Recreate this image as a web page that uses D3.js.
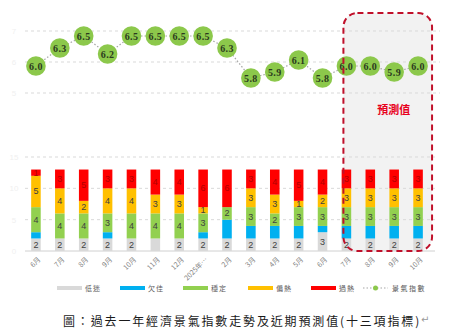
<!DOCTYPE html>
<html>
<head>
<meta charset="utf-8">
<script src="https://cdn.jsdelivr.net/npm/d3@7/dist/d3.min.js"></script>
<style>
  html, body { margin: 0; padding: 0; background: #fff; }
  svg { display: block; }
</style>
</head>
<body>
<svg id="chart" width="450" height="334"></svg>
<script>
// Months shown on the axis (Jun of last year through Oct, forecast for the last four)
const months = ["6月","7月","8月","9月","10月","11月","12月","2025年…","2月","3月","4月","5月","6月","7月","8月","9月","10月"];

// Composite index (signal score) per month
const indexValues = [6.0,6.3,6.5,6.2,6.5,6.5,6.5,6.5,6.3,5.8,5.9,6.1,5.8,6.0,6.0,5.9,6.0];

// Count of the thirteen indicators in each zone
const lowCounts    = [2,2,2,2,2,2,2,2,2,2,2,2,3,2,2,2,2]; // 低迷
const poorCounts   = [1,0,0,1,0,0,0,1,3,2,2,2,1,2,2,2,2]; // 欠佳
const stableCounts = [4,4,4,3,4,4,4,3,2,3,2,3,3,3,3,3,3]; // 穩定
const warmCounts   = [5,4,2,4,4,3,3,1,0,3,3,1,2,3,3,3,3]; // 偏熱
const hotCounts    = [1,3,5,3,3,4,4,6,6,3,4,5,4,3,3,3,3]; // 過熱

const zoneNames  = ["低迷","欠佳","穩定","偏熱","過熱"];
const zoneColors = ["#d9d9d9","#00b0f0","#92d050","#ffc000","#ff0000"];
const countTicks = [0,5,10,15];
const indexGridTicks = [5,6,7];
const forecastStart = 13;   // index of first month inside the forecast box
const forecastLabel = "預測值";
const seriesLabel = "景氣指數";
const caption = "圖：過去一年經濟景氣指數走勢及近期預測值(十三項指標)";

const svg = d3.select("#chart");

const x = d3.scaleBand()
  .domain(d3.range(months.length))
  .range([24, 430])
  .paddingInner(0.6)
  .paddingOuter(0.3);
const cx = i => x(i) + x.bandwidth() / 2;

const yCount = d3.scaleLinear().domain([0, 15]).range([251, 157]);
const yIndex = d3.scaleLinear().domain([5.5, 6.5]).range([96, 36]);
const yGrid  = d3.scaleLinear().domain([5, 7]).range([93, 31]);

// forecast box geometry
const boxLeft = cx(forecastStart) - 3;
const boxRight = cx(months.length - 1) + 14;
const boxTop = 13;
const boxBottom = yCount(0);

// light fill of forecast region (behind everything)
svg.append("rect")
  .attr("x", boxLeft).attr("y", boxTop)
  .attr("width", boxRight - boxLeft).attr("height", boxBottom - boxTop)
  .attr("rx", 14).attr("ry", 14)
  .attr("fill", "#f2f2f2");

// ---- top panel gridlines ----
const gTop = svg.append("g");
gTop.selectAll("line").data(indexGridTicks).join("line")
  .attr("x1", 25).attr("x2", 440)
  .attr("y1", d => yGrid(d)).attr("y2", d => yGrid(d))
  .attr("stroke", "#d9d9d9").attr("stroke-dasharray", "3,3").attr("stroke-width", 1);
gTop.selectAll("text").data(indexGridTicks).join("text")
  .attr("x", 14).attr("y", d => yGrid(d) + 3)
  .attr("text-anchor", "middle")
  .attr("font-family", "Liberation Sans, sans-serif").attr("font-size", 8)
  .attr("fill", "#f0f0f0")
  .text(d => d);

// ---- bottom panel gridlines ----
const gBot = svg.append("g");
gBot.selectAll("line").data(countTicks).join("line")
  .attr("x1", 25).attr("x2", 435)
  .attr("y1", d => yCount(d)).attr("y2", d => yCount(d))
  .attr("stroke", d => d === 0 ? "#d0d0d0" : "#d9d9d9")
  .attr("stroke-dasharray", d => d === 0 ? null : "3,3")
  .attr("stroke-width", 1);
gBot.selectAll("text").data(countTicks).join("text")
  .attr("x", 14).attr("y", d => yCount(d) + 3)
  .attr("text-anchor", "middle")
  .attr("font-family", "Liberation Sans, sans-serif").attr("font-size", 8)
  .attr("fill", "#f0f0f0")
  .text(d => d);

// ---- stacked bars ----
const table = months.map((m, i) => ({
  i,
  z0: lowCounts[i], z1: poorCounts[i], z2: stableCounts[i], z3: warmCounts[i], z4: hotCounts[i]
}));
const keys = ["z0","z1","z2","z3","z4"];
const stacked = d3.stack().keys(keys)(table);

const layers = svg.append("g").selectAll("g").data(stacked).join("g")
  .attr("fill", (d, k) => zoneColors[k]);
layers.selectAll("rect").data(d => d).join("rect")
  .attr("x", d => x(d.data.i))
  .attr("width", x.bandwidth())
  .attr("y", d => yCount(d[1]))
  .attr("height", d => yCount(d[0]) - yCount(d[1]));

// segment value labels (the 欠佳 zone is left unlabeled)
const labelColors = ["#404040", null, "#404040", "#404040", "#b00000"];
const skipLabel = new Set(["5-0"]);
const labels = svg.append("g")
  .attr("font-family", "Liberation Sans, sans-serif")
  .attr("font-size", 9)
  .attr("text-anchor", "middle");
stacked.forEach((layer, k) => {
  if (!labelColors[k]) return;
  layer.forEach(d => {
    const v = d[1] - d[0];
    if (v <= 0 || skipLabel.has(d.data.i + "-" + k)) return;
    labels.append("text")
      .attr("x", cx(d.data.i))
      .attr("y", (yCount(d[0]) + yCount(d[1])) / 2 + 3)
      .attr("fill", labelColors[k])
      .text(v);
  });
});

// ---- x axis ----
const xAxis = svg.append("g")
  .attr("transform", `translate(0,${yCount(0) + 3})`)
  .call(d3.axisBottom(x).tickSize(0).tickFormat(i => months[i]));
xAxis.select(".domain").remove();
xAxis.selectAll("text")
  .attr("font-family", "Noto Sans CJK TC, sans-serif")
  .attr("font-size", 7)
  .attr("fill", "#7f7f7f")
  .attr("text-anchor", "end")
  .attr("dy", 0)
  .attr("transform", "translate(3,4) rotate(-45)");

// ---- index line ----
const line = d3.line().x((d, i) => cx(i)).y(d => yIndex(d));
svg.append("path")
  .datum(indexValues)
  .attr("d", line)
  .attr("fill", "none")
  .attr("stroke", "#a6a6a6")
  .attr("stroke-width", 1.2)
  .attr("stroke-dasharray", "1.5,2");

const dots = svg.append("g").selectAll("g").data(indexValues).join("g")
  .attr("transform", (d, i) => `translate(${cx(i)},${yIndex(d)})`);
dots.append("circle").attr("r", 9.8).attr("fill", "#8cc84b");
dots.append("text")
  .attr("text-anchor", "middle")
  .attr("y", 3.5)
  .attr("font-family", "Liberation Serif, serif")
  .attr("font-weight", "bold")
  .attr("font-size", 10)
  .attr("letter-spacing", 0.4)
  .attr("fill", "#2b3a1e")
  .text(d => d.toFixed(1));

// forecast box outline on top
svg.append("rect")
  .attr("x", boxLeft).attr("y", boxTop)
  .attr("width", boxRight - boxLeft).attr("height", boxBottom - boxTop)
  .attr("rx", 14).attr("ry", 14)
  .attr("fill", "none")
  .attr("stroke", "#c0102a")
  .attr("stroke-width", 2)
  .attr("stroke-dasharray", "6,4");

svg.append("text")
  .attr("x", (boxLeft + boxRight) / 2 + 6)
  .attr("y", 114)
  .attr("text-anchor", "middle")
  .attr("font-family", "Noto Sans CJK TC, sans-serif")
  .attr("font-weight", "bold")
  .attr("font-size", 11)
  .attr("fill", "#e8001c")
  .text(forecastLabel);

// ---- legend ----
const legend = svg.append("g").attr("transform", "translate(0,288)");
const legendX = [57, 120, 183, 248, 311];
zoneNames.forEach((name, k) => {
  legend.append("line")
    .attr("x1", legendX[k]).attr("x2", legendX[k] + 25)
    .attr("y1", 0).attr("y2", 0)
    .attr("stroke", zoneColors[k]).attr("stroke-width", 4);
  legend.append("text")
    .attr("x", legendX[k] + 28).attr("y", 2.5)
    .attr("font-family", "Noto Sans CJK TC, sans-serif")
    .attr("font-size", 7).attr("fill", "#595959")
    .attr("letter-spacing", 1)
    .text(name);
});
legend.append("line")
  .attr("x1", 363).attr("x2", 388).attr("y1", 0).attr("y2", 0)
  .attr("stroke", "#a6a6a6").attr("stroke-width", 1.2).attr("stroke-dasharray", "1.5,2");
legend.append("circle").attr("cx", 375.5).attr("cy", 0).attr("r", 2.5).attr("fill", "#8cc84b");
legend.append("text")
  .attr("x", 392).attr("y", 2.5)
  .attr("font-family", "Noto Sans CJK TC, sans-serif")
  .attr("font-size", 7).attr("fill", "#595959")
  .attr("letter-spacing", 1.5)
  .text(seriesLabel);

// ---- caption ----
const cap = svg.append("text")
  .attr("x", 63).attr("y", 326)
  .attr("font-family", "Noto Sans CJK TC, sans-serif")
  .attr("font-size", 12)
  .attr("letter-spacing", 1.85)
  .attr("fill", "#1a1a1a");
cap.append("tspan").text(caption);
cap.append("tspan").attr("fill", "#9a9a9a").attr("font-family", "DejaVu Sans, sans-serif").attr("font-size", 10).attr("dy", -3).text("↵");
</script>
</body>
</html>
